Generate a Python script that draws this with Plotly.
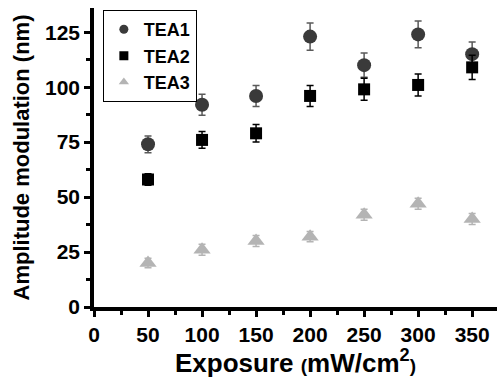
import plotly.graph_objects as go

exposure = [50, 100, 150, 200, 250, 300, 350]
tea1 = [74, 92, 96, 123, 110, 124, 115]
tea1_err = [3.8, 4.8, 4.8, 6.2, 5.5, 6.1, 5.5]
tea2 = [58, 76, 79, 96, 99, 101, 109]
tea2_err = [2.6, 3.8, 4.0, 4.8, 5.0, 5.0, 5.5]
tea3 = [20, 26, 30, 32, 42, 47, 40]
tea3_err = [2.2, 2.5, 2.5, 2.3, 2.5, 2.5, 2.5]

series = [
    ("TEA1", tea1, tea1_err, "circle", 14, "#3a3a3a", "#5a5a5a"),
    ("TEA2", tea2, tea2_err, "square", 12, "#000000", "#000000"),
    ("TEA3", tea3, tea3_err, "triangle-up", 15, "#b4b4b4", "#b4b4b4"),
]

FONT = "Liberation Sans, Arial, sans-serif"
fig = go.Figure()
for name, vals, errs, sym, size, col, ecol in series:
    fig.add_trace(go.Scatter(
        x=exposure, y=vals, mode="markers", name=name, showlegend=False,
        marker=dict(symbol=sym, size=size, color=col, line=dict(width=0)),
        error_y=dict(type="data", array=errs, visible=True, color=ecol,
                     thickness=1.5, width=3.5),
    ))
for name, vals, errs, sym, size, col, ecol in series:
    fig.add_trace(go.Scatter(
        x=[None], y=[None], mode="markers", name=name, showlegend=True,
        marker=dict(symbol=sym, size=9, color=col, line=dict(width=0)),
    ))

axis_common = dict(
    showline=True, linewidth=3.5, linecolor="black", mirror=False,
    ticks="outside", ticklen=6, tickwidth=3, tickcolor="black",
    showgrid=False, zeroline=False,
    tickfont=dict(family=FONT, size=21, color="black", weight="bold"),
    minor=dict(ticks="outside", ticklen=4, tickwidth=3, tickcolor="black"),
)

fig.update_layout(
    width=497, height=378,
    margin=dict(l=94, r=0, t=8, b=71),
    paper_bgcolor="white", plot_bgcolor="white",
    xaxis=dict(range=[0, 373], tickmode="array",
               tickvals=[0, 50, 100, 150, 200, 250, 300, 350],
               title=dict(text="Exposure <span style='font-size:19px'>(</span>mW/cm<sup>2</sup><span style='font-size:19px'>)</span>",
                          font=dict(family=FONT, size=26, color="black", weight="bold"),
                          standoff=2),
               **axis_common),
    yaxis=dict(range=[0, 136], tickmode="array",
               tickvals=[0, 25, 50, 75, 100, 125],
               title=dict(text="Amplitude modulation (nm)",
                          font=dict(family=FONT, size=22, color="black", weight="bold"),
                          standoff=10),
               **axis_common),
    legend=dict(x=0.022, y=0.993, xanchor="left", yanchor="top",
                bordercolor="black", borderwidth=1, bgcolor="white",
                font=dict(family=FONT, size=18, color="black", weight="bold"),
                tracegroupgap=0),
    showlegend=True,
)
fig.update_xaxes(minor=dict(tickvals=[25, 75, 125, 175, 225, 275, 325]))
fig.update_yaxes(minor=dict(tickvals=[12.5, 37.5, 62.5, 87.5, 112.5]))

fig.write_html("out.html", config={"displayModeBar": False},
               post_script="document.body.style.margin='0';document.body.style.padding='0';")
